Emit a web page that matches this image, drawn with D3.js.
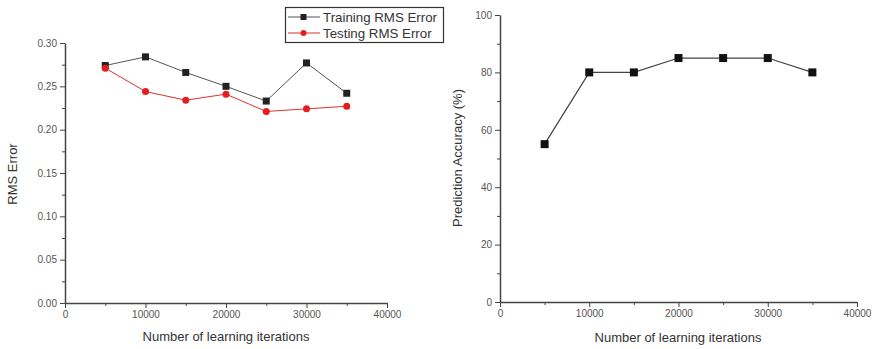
<!DOCTYPE html>
<html>
<head>
<meta charset="utf-8">
<script src="https://cdn.jsdelivr.net/npm/d3@7.9.0/dist/d3.min.js"></script>
<style>
  body { margin: 0; background: #fff; }
  svg { display: block; font-family: Arial, "Liberation Sans", sans-serif; }
  .tick text { fill: #555; font-size: 10px; }
  .axis path, .axis line { stroke: #444; }
  .title { fill: #333; font-size: 13px; }
</style>
</head>
<body>
<svg id="chart" width="876" height="349"></svg>
<script>
// Data
let iterations = [5000, 10000, 15000, 20000, 25000, 30000, 35000];
let trainingRMS = [0.274, 0.284, 0.266, 0.250, 0.233, 0.277, 0.242];
let testingRMS = [0.271, 0.244, 0.234, 0.241, 0.221, 0.224, 0.227];
let accuracy = [55, 80, 80, 85, 85, 85, 80];

let xTicks = [0, 10000, 20000, 30000, 40000];
let rmsTicks = [0, 0.05, 0.10, 0.15, 0.20, 0.25, 0.30];
let accTicks = [0, 20, 40, 60, 80, 100];
let legendLabels = ['Training RMS Error', 'Testing RMS Error'];

let svg = d3.select('#chart');

// draw axes with minor ticks (origin style)
function drawAxes(g, x, y, yTicks, yFmt, yMinor, xMinor) {
  let [x0, x1] = x.range();
  let [y0, y1] = y.range();

  // minor ticks first
  g.append('g')
    .attr('class', 'axis')
    .attr('transform', `translate(0,${y0})`)
    .call(d3.axisBottom(x).tickValues(xMinor).tickSize(3).tickFormat(''))
    .call(a => a.select('.domain').remove());
  g.append('g')
    .attr('class', 'axis')
    .attr('transform', `translate(${x0},0)`)
    .call(d3.axisLeft(y).tickValues(yMinor).tickSize(3).tickFormat(''))
    .call(a => a.select('.domain').remove());

  g.append('g')
    .attr('class', 'axis')
    .attr('transform', `translate(0,${y0})`)
    .call(d3.axisBottom(x).tickValues(xTicks).tickFormat(d3.format('d'))
      .tickSize(5).tickSizeOuter(0).tickPadding(3))
    .call(a => a.select('.domain').attr('stroke-width', 1.5));
  g.append('g')
    .attr('class', 'axis')
    .attr('transform', `translate(${x0},0)`)
    .call(d3.axisLeft(y).tickValues(yTicks).tickFormat(yFmt).tickSize(5).tickSizeOuter(0).tickPadding(3))
    .call(a => a.select('.domain').attr('stroke-width', 1.5));
}

// ---- Left chart: RMS error ----
let xL = d3.scaleLinear().domain([0, 40000]).range([65, 387]);
let yL = d3.scaleLinear().domain([0, 0.30]).range([303, 43]);
let left = svg.append('g');

drawAxes(left, xL, yL, rmsTicks, d3.format('.2f'),
  d3.range(0.025, 0.3, 0.05), d3.range(5000, 40000, 10000));

let lineL = (vals) => d3.line()
  .x((d, i) => xL(iterations[i]))
  .y(d => yL(d))(vals);

left.append('path')
  .attr('d', lineL(trainingRMS))
  .attr('fill', 'none')
  .attr('stroke', '#555')
  .attr('stroke-width', 1);
left.append('path')
  .attr('d', lineL(testingRMS))
  .attr('fill', 'none')
  .attr('stroke', '#e03030')
  .attr('stroke-width', 1);

left.selectAll('rect.train')
  .data(trainingRMS)
  .join('rect')
  .attr('class', 'train')
  .attr('x', (d, i) => xL(iterations[i]) - 3.5)
  .attr('y', d => yL(d) - 3.5)
  .attr('width', 7)
  .attr('height', 7)
  .attr('fill', '#222');
left.selectAll('circle.test')
  .data(testingRMS)
  .join('circle')
  .attr('class', 'test')
  .attr('cx', (d, i) => xL(iterations[i]))
  .attr('cy', d => yL(d))
  .attr('r', 3.5)
  .attr('fill', '#e41e1e');

left.append('text')
  .attr('class', 'title')
  .attr('transform', 'translate(17,174) rotate(-90)')
  .attr('text-anchor', 'middle')
  .text('RMS Error');
left.append('text')
  .attr('class', 'title')
  .attr('x', 226)
  .attr('y', 341)
  .attr('text-anchor', 'middle')
  .text('Number of learning iterations');

// legend
let legend = left.append('g');
legend.append('rect')
  .attr('x', 285.5).attr('y', 7.5)
  .attr('width', 158).attr('height', 35)
  .attr('fill', '#fff')
  .attr('stroke', '#333')
  .attr('stroke-width', 1.2);
let legColors = ['#555', '#e03030'];
legendLabels.forEach((lab, i) => {
  let ly = 17 + i * 16;
  legend.append('line')
    .attr('x1', 288).attr('x2', 320)
    .attr('y1', ly).attr('y2', ly)
    .attr('stroke', legColors[i]);
  if (i === 0) {
    legend.append('rect')
      .attr('x', 300.5).attr('y', ly - 3)
      .attr('width', 6).attr('height', 6)
      .attr('fill', '#222');
  } else {
    legend.append('circle')
      .attr('cx', 303.5).attr('cy', ly).attr('r', 3)
      .attr('fill', '#e41e1e');
  }
  legend.append('text')
    .attr('class', 'title')
    .attr('x', 323)
    .attr('y', ly + 4.5)
    .style('font-size', '13.3px')
    .text(lab);
});

// ---- Right chart: prediction accuracy ----
let xR = d3.scaleLinear().domain([0, 40000]).range([500, 857]);
let yR = d3.scaleLinear().domain([0, 100]).range([302, 15]);
let right = svg.append('g');

drawAxes(right, xR, yR, accTicks, d3.format('d'),
  d3.range(10, 100, 20), d3.range(5000, 40000, 10000));

right.append('path')
  .attr('d', d3.line()
    .x((d, i) => xR(iterations[i]))
    .y(d => yR(d))(accuracy))
  .attr('fill', 'none')
  .attr('stroke', '#444')
  .attr('stroke-width', 1.2);
right.selectAll('rect.acc')
  .data(accuracy)
  .join('rect')
  .attr('class', 'acc')
  .attr('x', (d, i) => xR(iterations[i]) - 4)
  .attr('y', d => yR(d) - 4)
  .attr('width', 8)
  .attr('height', 8)
  .attr('fill', '#111');

right.append('text')
  .attr('class', 'title')
  .attr('transform', 'translate(462,158) rotate(-90)')
  .attr('text-anchor', 'middle')
  .text('Prediction Accuracy (%)');
right.append('text')
  .attr('class', 'title')
  .attr('x', 678)
  .attr('y', 342)
  .attr('text-anchor', 'middle')
  .text('Number of learning iterations');
</script>
</body>
</html>
